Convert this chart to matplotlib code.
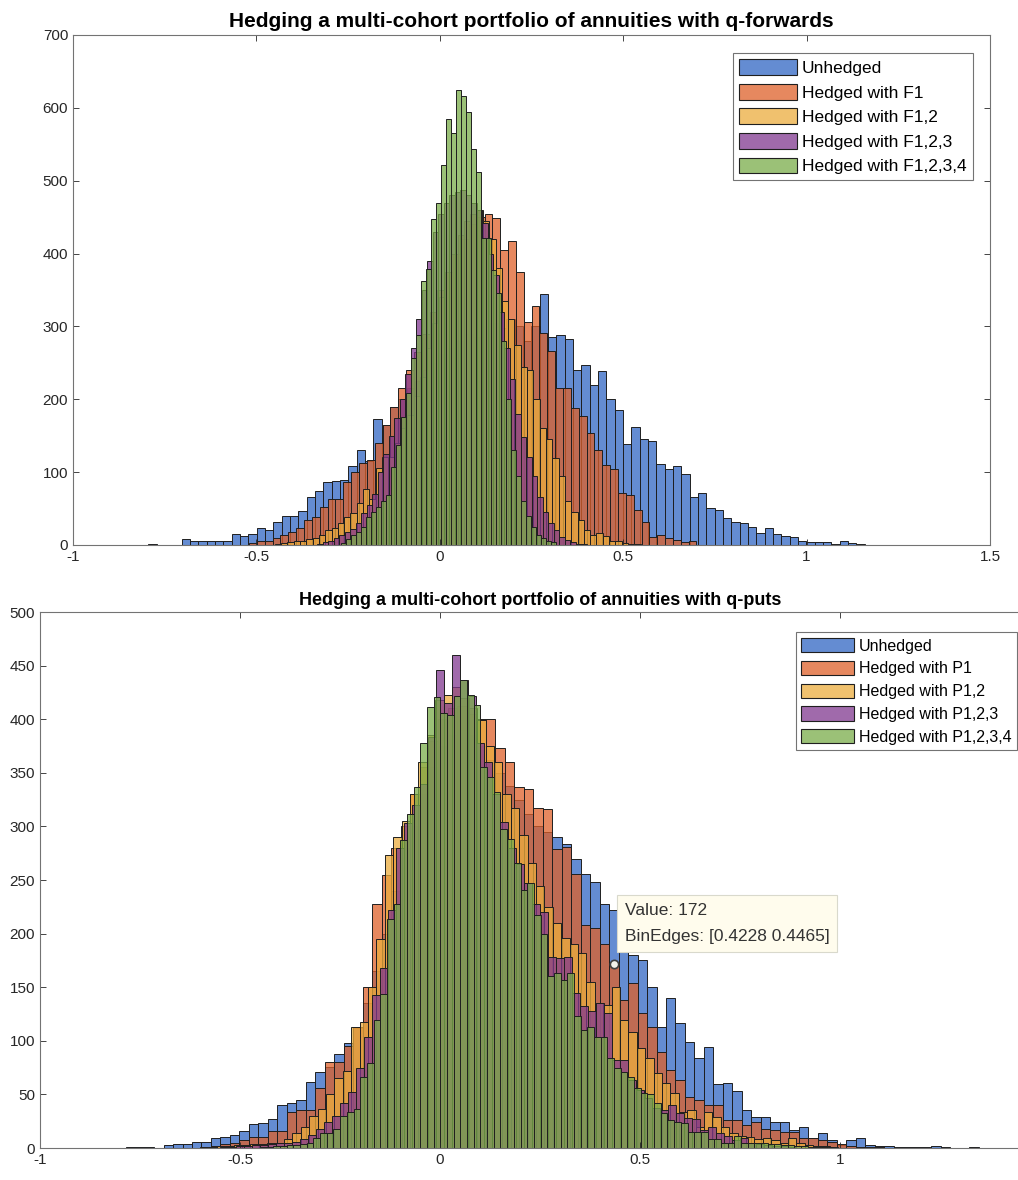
import numpy as np
import matplotlib
matplotlib.use("Agg")
import matplotlib.pyplot as plt
from matplotlib.patches import Patch

plt.rcParams['font.family'] = ['Liberation Sans', 'DejaVu Sans']

# ---------------- data: q-forwards (top) ----------------
# each series: first bin edge, bin width, counts
fwd_labels = ["Unhedged", "Hedged with F1", "Hedged with F1,2",
              "Hedged with F1,2,3", "Hedged with F1,2,3,4"]
fwd_start = [-0.7943, -0.52, -0.45, -0.334, -0.27]
fwd_width = [0.0227, 0.0214, 0.0172, 0.015, 0.01362]

fwd_unhedged = [2, 0, 0, 0, 8, 5, 5, 5, 5, 5,
                15, 12, 15, 24, 21, 31, 40, 40, 47, 66,
                74, 87, 88, 89, 108, 131, 115, 173, 165, 190,
                200, 215, 225, 240, 250, 262, 270, 280, 290, 285,
                300, 305, 298, 310, 300, 280, 300,
                344, 285, 288, 283, 240, 247, 220, 239, 200, 185,
                139, 162, 146, 143, 111, 104, 108, 97, 66, 71,
                51, 48, 37, 32, 30, 25, 17, 23, 15, 12,
                11, 6, 4, 4, 4, 2, 5, 3, 2]
fwd_f1 = [3, 5, 6, 10, 14, 18, 24, 34, 38, 52,
          63, 63, 86, 100, 112, 117, 140, 165, 190, 215,
          240, 265, 290, 320, 350, 375, 400, 420, 440, 450,
          455, 449, 405, 417, 375, 306, 328, 291, 266, 215,
          215, 188, 177, 154, 130, 110, 104, 71, 69, 48,
          32, 11, 14, 10, 7, 4, 5]
fwd_f12 = [2, 3, 4, 5, 6, 8, 10, 14, 20, 24,
           30, 38, 44, 58, 77, 63, 106, 121, 121, 140,
           160, 178, 205, 230, 270, 305, 340, 375, 400, 425,
           445, 455, 460, 445, 420, 380, 335, 310, 275, 245,
           240, 200, 160, 145, 120, 95, 60, 45, 35, 20,
           14, 16, 12, 6, 6, 3, 2, 1]
fwd_f123 = [2, 4, 6, 10, 14, 18, 22, 30, 44, 55,
            70, 100, 125, 150, 175, 200, 235, 270, 310, 350,
            390, 430, 455, 470, 480, 485, 487, 480, 470, 460,
            442, 400, 370, 320, 270, 228, 180, 148, 121, 95,
            66, 45, 30, 21, 11, 7, 4, 2, 1]
fwd_f1234 = [3, 8, 14, 18, 25, 38, 45, 52, 60, 69,
             107, 137, 176, 209, 257, 288, 362, 379, 447, 469,
             521, 585, 566, 625, 616, 594, 543, 512, 421, 421,
             377, 346, 280, 200, 130, 95, 60, 40, 25, 14,
             9, 6, 4]

# ---------------- data: q-puts (bottom) ----------------
put_labels = ["Unhedged", "Hedged with P1", "Hedged with P1,2",
              "Hedged with P1,2,3", "Hedged with P1,2,3,4"]
put_start = [-0.7859, -0.5963, -0.60, -0.55, -0.45]
put_width = [0.0237, 0.0237, 0.021, 0.02, 0.0167]

put_unhedged = [1, 1, 1, 0, 3, 4, 4, 6, 6, 9,
                10, 12, 16, 22, 23, 27, 40, 42, 45, 62,
                71, 76, 88, 98, 112, 135, 165, 200, 240, 280,
                300, 330, 355, 375, 385, 390, 385, 375, 362, 350,
                338, 325, 312, 300, 295, 290, 284, 270, 256, 248,
                228, 222, 185, 180, 175, 150, 113, 140, 117, 99,
                84, 94, 60, 61, 53, 35, 29, 29, 24, 24,
                17, 20, 9, 14, 7, 3, 7, 9, 3, 2,
                2, 1, 1, 1, 1, 2, 1, 0, 0, 1]
put_p1 = [1, 2, 4, 5, 7, 10, 10, 16, 16, 34,
          35, 35, 56, 80, 80, 95, 113, 150, 228, 255,
          280, 300, 330, 355, 380, 400, 410, 412, 405, 400,
          400, 373, 360, 337, 335, 317, 316, 279, 281, 256,
          208, 205, 190, 172, 138, 154, 126, 113, 90, 73,
          63, 48, 45, 40, 40, 26, 26, 21, 24, 18,
          17, 15, 15, 9, 9, 7, 6, 4, 2, 1,
          1, 1]
put_p12 = [1, 1, 2, 2, 3, 3, 4, 4, 5, 5,
           8, 14, 20, 30, 36, 50, 65, 72, 113, 118,
           150, 195, 273, 290, 305, 330, 360, 385, 418, 423,
           430, 420, 410, 399, 375, 360, 330, 317, 292, 266,
           244, 225, 210, 196, 190, 182, 155, 135, 133, 150,
           119, 108, 93, 84, 70, 61, 51, 34, 35, 20,
           34, 29, 20, 14, 11, 10, 8, 9, 7, 5,
           9, 5, 3, 2, 2, 1]
put_p123 = [1, 1, 2, 2, 3, 3, 4, 5, 5, 6,
            8, 12, 18, 24, 30, 42, 52, 75, 104, 143,
            168, 222, 280, 303, 320, 340, 383, 446, 415, 460,
            437, 422, 378, 360, 330, 304, 280, 265, 247, 228,
            220, 178, 177, 178, 145, 132, 128, 135, 126, 82,
            82, 63, 54, 47, 37, 35, 40, 33, 28, 27,
            17, 20, 14, 11, 7, 9, 5, 4, 3, 2,
            2, 1]
put_p1234 = [1, 1, 2, 2, 3, 3, 4, 5, 9, 14,
             14, 18, 30, 34, 36, 66, 79, 119, 144, 214,
             228, 287, 312, 337, 378, 411, 421, 406, 404, 422,
             437, 423, 413, 355, 346, 332, 298, 288, 266, 241,
             247, 217, 200, 160, 163, 157, 163, 123, 110, 113,
             104, 104, 84, 75, 71, 66, 56, 51, 50, 42,
             33, 26, 24, 23, 15, 15, 15, 8, 8, 5,
             5, 11, 5, 5, 5, 5, 4, 4, 3, 3,
             2, 2, 1, 1, 1, 1]

# datatip shown on the q-puts plot
tip_value = 172
tip_edges = [0.4228, 0.4465]

colors = [(0.19, 0.40, 0.77), (0.87, 0.375, 0.16), (0.925, 0.68, 0.24),
          (0.505, 0.22, 0.56), (0.48, 0.68, 0.29)]
alpha = 0.75
edge = (0.12, 0.12, 0.12)
tick_col = (0.15, 0.15, 0.15)


def draw_hists(ax, starts, widths, series):
    for s, w, counts, c in zip(starts, widths, series, colors):
        counts = np.asarray(counts, dtype=float)
        left = s + w * np.arange(len(counts))
        ax.bar(left, counts, width=w, align='edge',
               facecolor=(*c, alpha), edgecolor=edge, linewidth=0.7)


def style_axes(ax):
    ax.tick_params(direction='in', top=True, right=True, length=4,
                   labelsize=11, colors=tick_col, width=0.6)
    for sp in ax.spines.values():
        sp.set_color((0.45, 0.45, 0.45))
        sp.set_linewidth(0.8)


def legend(ax, labels, anchor, fs, hl):
    handles = [Patch(facecolor=(*c, alpha), edgecolor=edge, linewidth=0.8)
               for c in colors]
    lg = ax.legend(handles, labels, loc='upper right', bbox_to_anchor=anchor,
                   fontsize=fs, frameon=True, fancybox=False, framealpha=1,
                   edgecolor=(0.45, 0.45, 0.45), handlelength=hl,
                   handleheight=1.0, handletextpad=0.3, labelspacing=0.45,
                   borderpad=0.35, borderaxespad=0)
    lg.get_frame().set_linewidth(0.8)


fig = plt.figure(figsize=(10.18, 11.8), dpi=100)

# top: q-forwards
ax1 = fig.add_axes([73 / 1018, 1 - 545 / 1180, 917 / 1018, 510 / 1180])
draw_hists(ax1, fwd_start, fwd_width,
           [fwd_unhedged, fwd_f1, fwd_f12, fwd_f123, fwd_f1234])
ax1.set_xlim(-1, 1.5)
ax1.set_ylim(0, 700)
ax1.set_xticks(np.arange(-1, 1.51, 0.5))
ax1.set_xticklabels(["-1", "-0.5", "0", "0.5", "1", "1.5"])
ax1.set_yticks(np.arange(0, 701, 100))
style_axes(ax1)
ax1.set_title("Hedging a multi-cohort portfolio of annuities with q-forwards",
              fontsize=15, fontweight='bold', pad=6)
legend(ax1, fwd_labels, (0.981, 0.964), 12.5, 3.3)

# bottom: q-puts (axes runs past the right edge of the image)
ax2 = fig.add_axes([40 / 1018, 1 - 1148 / 1180, 1000 / 1018, 536 / 1180])
draw_hists(ax2, put_start, put_width,
           [put_unhedged, put_p1, put_p12, put_p123, put_p1234])
ax2.set_xlim(-1, 1.5)
ax2.set_ylim(0, 500)
ax2.set_xticks(np.arange(-1, 1.01, 0.5))
ax2.set_xticklabels(["-1", "-0.5", "0", "0.5", "1"])
ax2.set_yticks(np.arange(0, 501, 50))
style_axes(ax2)
ax2.set_title("Hedging a multi-cohort portfolio of annuities with q-puts",
              fontsize=13, fontweight='bold', pad=5)
legend(ax2, put_labels, (0.977, 0.962), 11.5, 3.3)

# datatip
tip_x = 0.5 * (tip_edges[0] + tip_edges[1])
ax2.plot([tip_x], [tip_value], 'o', ms=6, mfc=(0.95, 0.95, 0.92),
         mec=(0.25, 0.25, 0.25), mew=1.2, zorder=6)
ax2.text(0.462, 229,
         f"Value: {tip_value}\nBinEdges: [{tip_edges[0]:.4f} {tip_edges[1]:.4f}]",
         fontsize=12.5, color=(0.2, 0.2, 0.2), va='top', ha='left',
         linespacing=1.95, zorder=7,
         bbox=dict(boxstyle='square,pad=0.45', facecolor=(1.0, 0.99, 0.93),
                   edgecolor=(0.85, 0.85, 0.8), linewidth=0.8))

fig.savefig("out.png", dpi=100)
